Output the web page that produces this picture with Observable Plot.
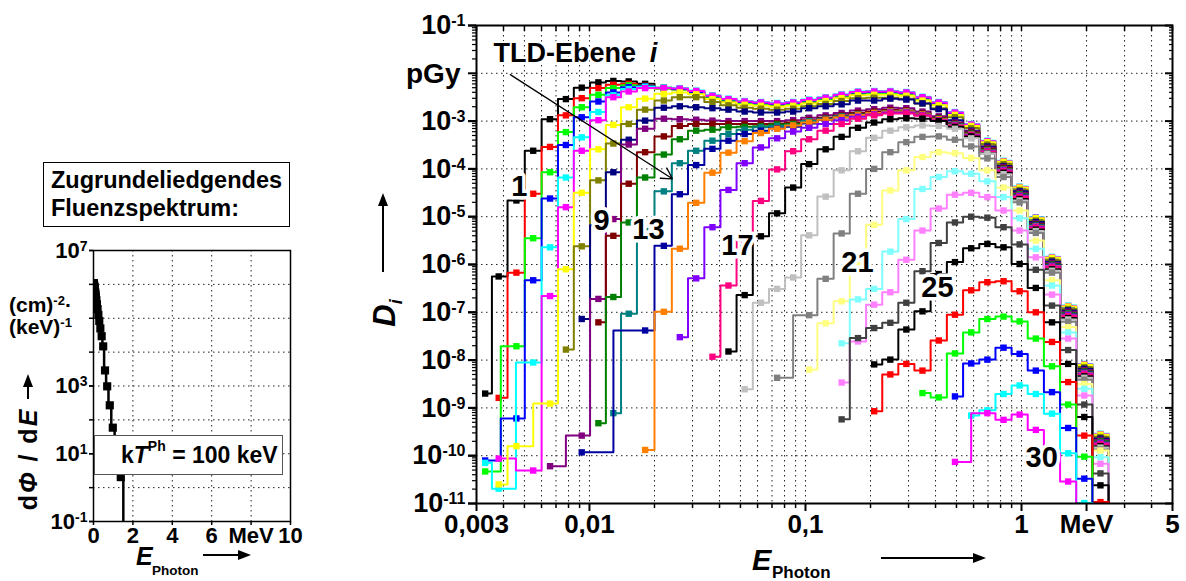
<!DOCTYPE html>
<html><head><meta charset="utf-8">
<script src="https://cdn.jsdelivr.net/npm/d3@7"></script>
<script src="https://cdn.jsdelivr.net/npm/@observablehq/plot@0.6"></script>
<style>
body{margin:0;background:#fff;}
#wrap{position:relative;width:1186px;height:581px;overflow:hidden;font-family:"Liberation Sans",Arial,sans-serif;font-weight:bold;color:#000;background:#fff}
#left{position:absolute;left:0;top:0}
#right{position:absolute;left:340px;top:0}
.abs{position:absolute;white-space:nowrap;line-height:1}
.sup{font-size:0.62em;position:relative;top:-0.55em}
.box{border:1px solid #000;background:#fff;display:flex;flex-direction:column;align-items:center;justify-content:center;line-height:1.15}
.kt{border:1.5px solid #555;background:#fff;display:flex;align-items:center;padding-left:26px;box-sizing:border-box}
.rot{position:absolute;white-space:nowrap;line-height:1;transform:translate(-50%,-50%) rotate(-90deg)}
.harrow{position:absolute;height:0;border-top:2px solid #000}
.harrow::after{content:"";position:absolute;right:-3px;top:-6px;border-left:13px solid #000;border-top:5px solid transparent;border-bottom:5px solid transparent}
.varrow{position:absolute;width:0;border-left:2px solid #000}
.varrow::after{content:"";position:absolute;top:-3px;left:-6px;border-bottom:13px solid #000;border-left:5px solid transparent;border-right:5px solid transparent}
</style></head>
<body>
<div id="wrap">
  <div id="left"></div>
  <div id="right"></div>
  <div class="abs box" style="left:43px;top:162px;width:245px;height:63px;font-size:23.5px;">Zugrundeliedgendes<br>Fluenzspektrum:</div>
  <div class="abs" style="left:9px;top:294px;font-size:21px">(cm)<span class="sup">-2</span>·</div>
  <div class="abs" style="left:9px;top:316px;font-size:21px">(keV)<span class="sup">-1</span></div>
  <div class="rot" style="left:28px;top:459px;font-size:25px;letter-spacing:2px">d<i>Φ</i> / d<i>E</i></div>
  <div class="varrow" style="left:27px;top:377px;height:22px"></div>
  <div class="abs" style="left:136px;top:544px;font-size:25px"><i>E</i></div>
  <div class="abs" style="left:152px;top:564px;font-size:13.5px">Photon</div>
  <div class="harrow" style="left:203px;top:554px;width:45px"></div>
  <div class="abs kt" style="left:94px;top:435px;width:189px;height:40px;font-size:23px">k<i>T</i><span class="sup" style="font-size:14px;top:-9px">Ph</span>&nbsp;= 100 keV</div>
  <div class="abs" style="left:406px;top:60px;font-size:28px">pGy</div>
  <div class="rot" style="left:384px;top:313px;font-size:31px"><i>D</i><i style="font-size:18px;position:relative;top:7px">i</i></div>
  <div class="varrow" style="left:382px;top:196px;height:76px"></div>
  <div class="abs" style="left:752px;top:546px;font-size:29px"><i>E</i></div>
  <div class="abs" style="left:772px;top:564px;font-size:17px">Photon</div>
  <div class="harrow" style="left:881px;top:557px;width:102px"></div>
</div>
<script>
// ---------- data ----------
// photon energy bins (MeV), bin index k = 0..39
const energyMeV = [0.00329,0.00380,0.00459,0.00549,0.00657,0.00778,0.00921,0.0110,0.0129,0.0152,0.0181,0.0221,0.0262,0.0312,0.0371,0.0440,0.0523,0.0622,0.0739,0.0877,0.104,0.124,0.147,0.175,0.208,0.247,0.293,0.348,0.414,0.492,0.585,0.695,0.826,0.980,1.165,1.384,1.644,1.953,2.32,2.76];

// dose spectra D_i (pGy) per TLD plane, stored as log10 values; null = no point; -13 = below axis
const seriesStart = [0,1,0,0,0,1,1,5,6,4,7,7,8,6,10,12,14,15,16,18,20,22,22,22,24,24,27,29,30,29];
const s01 = [-8.70,-6.25,-4.66,-3.62,-2.96,-2.54,-2.30,-2.19,-2.16,-2.17,-2.22,-2.30,-2.33,-2.40,-2.52,-2.59,-2.64,-2.66,-2.68,-2.66,-2.61,-2.56,-2.50,-2.44,-2.43,-2.43,-2.45,-2.55,-2.66,-2.87,-3.12,-3.47,-3.89,-4.43,-5.07,-5.90,-6.92,-8.14,-9.60,-13];
const s02 = [-8.79,-6.17,-4.52,-3.54,-2.88,-2.52,-2.31,-2.24,-2.22,-2.26,-2.32,-2.34,-2.40,-2.51,-2.58,-2.63,-2.65,-2.67,-2.65,-2.60,-2.55,-2.49,-2.43,-2.42,-2.42,-2.44,-2.54,-2.65,-2.86,-3.11,-3.46,-3.88,-4.42,-5.06,-5.89,-6.91,-8.13,-9.59,-13];
const s03 = [-10.33,null,-7.71,-5.45,-4.07,-3.23,-2.71,-2.45,-2.31,-2.25,-2.27,-2.32,-2.34,-2.40,-2.50,-2.57,-2.62,-2.64,-2.66,-2.64,-2.59,-2.54,-2.48,-2.42,-2.41,-2.41,-2.43,-2.53,-2.64,-2.85,-3.10,-3.45,-3.87,-4.41,-5.05,-5.88,-6.90,-8.12,-9.58,-13];
const s04 = [-10.10,null,-9.22,-6.33,-4.62,-3.50,-2.92,-2.59,-2.40,-2.29,-2.27,-2.31,-2.33,-2.39,-2.48,-2.55,-2.60,-2.62,-2.64,-2.62,-2.57,-2.52,-2.46,-2.40,-2.39,-2.39,-2.41,-2.51,-2.62,-2.83,-3.08,-3.44,-3.86,-4.40,-5.04,-5.87,-6.89,-8.11,-9.57,-13];
const s05 = [-10.15,-10.69,null,-8.05,-5.64,-4.18,-3.34,-2.81,-2.46,-2.33,-2.28,-2.30,-2.31,-2.36,-2.46,-2.53,-2.58,-2.60,-2.62,-2.60,-2.55,-2.50,-2.44,-2.38,-2.37,-2.37,-2.39,-2.49,-2.60,-2.81,-3.06,-3.41,-3.83,-4.37,-5.01,-5.84,-6.86,-8.08,-9.54,-13];
const s06 = [-10.06,null,-10.31,-6.66,-4.80,-3.62,-2.98,-2.50,-2.38,-2.31,-2.31,-2.32,-2.37,-2.47,-2.54,-2.59,-2.61,-2.63,-2.61,-2.56,-2.51,-2.45,-2.39,-2.38,-2.38,-2.40,-2.50,-2.61,-2.82,-3.07,-3.42,-3.84,-4.38,-5.02,-5.85,-6.87,-8.09,-9.55,-13];
const s07 = [-10.60,-9.80,null,-8.91,-6.10,-4.50,-3.59,-3.08,-2.71,-2.53,-2.43,-2.40,-2.44,-2.54,-2.61,-2.66,-2.68,-2.70,-2.68,-2.63,-2.58,-2.52,-2.46,-2.45,-2.45,-2.47,-2.57,-2.67,-2.87,-3.10,-3.44,-3.85,-4.39,-5.03,-5.86,-6.88,-8.10,-9.56,-13];
const s08 = [-7.78,-5.62,-4.24,-3.47,-3.06,-2.76,-2.57,-2.50,-2.50,-2.60,-2.67,-2.72,-2.74,-2.76,-2.74,-2.69,-2.64,-2.58,-2.52,-2.51,-2.51,-2.53,-2.63,-2.73,-2.92,-3.15,-3.49,-3.90,-4.44,-5.08,-5.91,-6.93,-8.15,-9.61,-13];
const s09 = [-7.14,-5.18,-4.07,-3.39,-2.99,-2.72,-2.69,-2.71,-2.73,-2.76,-2.80,-2.82,-2.82,-2.80,-2.73,-2.69,-2.65,-2.57,-2.57,-2.53,-2.55,-2.63,-2.75,-2.98,-3.20,-3.53,-3.94,-4.47,-5.11,-5.94,-6.96,-8.18,-9.64,-13];
const s10 = [-10.22,null,-9.58,-6.72,-5.05,-3.49,-3.16,-2.95,-2.96,-2.97,-2.99,-3.00,-3.00,-3.00,-3.00,-2.98,-2.93,-2.88,-2.83,-2.78,-2.75,-2.72,-2.73,-2.80,-2.90,-3.03,-3.22,-3.56,-3.96,-4.50,-5.14,-5.97,-6.99,-8.21,-9.67,-13];
const s11 = [-7.21,-5.40,-4.31,-3.65,-3.32,-3.10,-3.06,-3.06,-3.06,-3.06,-3.06,-3.05,-3.03,-2.98,-2.93,-2.88,-2.83,-2.80,-2.77,-2.78,-2.84,-2.93,-3.05,-3.24,-3.58,-3.98,-4.52,-5.16,-5.99,-7.01,-8.23,-9.69,-13];
const s12 = [-9.32,-6.68,-5.12,-4.18,-3.70,-3.38,-3.20,-3.18,-3.13,-3.12,-3.11,-3.07,-3.06,-3.02,-2.97,-2.92,-2.87,-2.84,-2.80,-2.80,-2.86,-2.95,-3.07,-3.26,-3.60,-4.00,-4.53,-5.17,-6.00,-7.02,-8.24,-9.70,-13];
const s13 = [-9.11,-7.03,-5.30,-4.47,-3.88,-3.62,-3.41,-3.27,-3.18,-3.13,-3.10,-3.08,-3.00,-2.95,-2.90,-2.86,-2.83,-2.80,-2.80,-2.86,-2.95,-3.07,-3.27,-3.61,-4.01,-4.54,-5.18,-6.01,-7.03,-8.25,-9.71,-13];
const s14 = [-9.93,null,null,null,-7.38,-5.61,-4.53,-3.92,-3.58,-3.41,-3.27,-3.20,-3.15,-3.12,-3.05,-2.97,-2.92,-2.88,-2.84,-2.81,-2.81,-2.87,-2.96,-3.08,-3.28,-3.62,-4.02,-4.55,-5.19,-6.02,-7.04,-8.26,-9.72,-13];
const s15 = [-9.88,-6.99,-5.67,-4.71,-4.08,-3.66,-3.42,-3.25,-3.16,-3.09,-3.03,-2.97,-2.92,-2.87,-2.83,-2.80,-2.80,-2.86,-2.96,-3.08,-3.28,-3.62,-4.02,-4.56,-5.20,-6.03,-7.05,-8.27,-9.73,-13];
const s16 = [-7.52,-6.29,-5.22,-4.44,-3.88,-3.55,-3.36,-3.22,-3.14,-3.06,-2.98,-2.91,-2.86,-2.82,-2.82,-2.88,-2.98,-3.09,-3.29,-3.63,-4.03,-4.57,-5.21,-6.04,-7.06,-8.28,-9.74,-13];
const s17 = [-7.93,-6.44,-5.50,-4.67,-4.01,-3.63,-3.38,-3.20,-3.06,-2.95,-2.88,-2.84,-2.84,-2.89,-2.99,-3.10,-3.30,-3.64,-4.05,-4.59,-5.23,-6.06,-7.08,-8.30,-9.76,-13];
const s18 = [-7.82,-6.64,-5.41,-4.93,-4.39,-3.90,-3.59,-3.33,-3.14,-3.03,-2.96,-2.94,-2.95,-3.00,-3.12,-3.32,-3.67,-4.08,-4.63,-5.27,-6.10,-7.12,-8.34,-9.80,-13];
const s19 = [-8.61,-6.80,-6.51,-6.27,-5.39,-4.58,-4.03,-3.63,-3.35,-3.20,-3.13,-3.09,-3.10,-3.16,-3.36,-3.68,-4.11,-4.66,-5.30,-6.13,-7.15,-8.37,-9.83,-13];
const s20 = [-8.37,null,-7.06,-6.30,-5.35,-4.52,-4.00,-3.65,-3.44,-3.33,-3.32,-3.39,-3.53,-3.78,-4.17,-4.70,-5.34,-6.17,-7.20,-8.41,-9.87,-13];
const s21 = [-8.20,-7.23,-6.77,-5.95,-5.17,-4.45,-4.03,-3.75,-3.65,-3.67,-3.77,-4.03,-4.39,-4.87,-5.50,-6.33,-7.31,-8.50,-9.89,-13];
const s22 = [-7.65,-6.73,-6.51,-5.73,-5.05,-4.42,-4.17,-4.05,-4.10,-4.26,-4.59,-5.03,-5.67,-6.44,-7.42,-8.60,-10.03,-13];
const s23 = [-8.47,-7.61,-6.84,-6.58,-5.90,-5.29,-4.83,-4.54,-4.50,-4.59,-4.87,-5.29,-5.85,-6.63,-7.55,-8.74,-10.17,-13];
const s24 = [-9.24,-7.54,-7.33,-7.22,-6.80,-6.14,-5.55,-5.12,-5.00,-5.02,-5.22,-5.58,-6.11,-6.86,-7.79,-8.93,-10.37,-13];
const s25 = [-8.09,-7.99,-7.36,-6.98,-6.20,-5.95,-5.66,-5.57,-5.64,-5.99,-6.49,-7.21,-8.08,-9.19,-10.62,-13];
const s26 = [-9.07,-8.30,-8.08,-8.22,-7.59,-7.05,-6.54,-6.37,-6.35,-6.56,-7.00,-7.62,-8.46,-9.58,-10.97,-13];
const s27 = [-8.69,-8.78,-7.86,-7.42,-7.14,-7.09,-7.19,-7.55,-8.13,-8.93,-10.02,-13];
const s28 = [-8.76,-8.07,-7.99,-7.74,-7.87,-8.22,-8.67,-9.42,-10.48,-13];
const s29 = [-9.16,-9.05,-8.71,-8.53,-8.71,-9.12,-9.95,-10.99,-13];
const s30 = [-10.13,null,-9.11,-9.25,-9.14,-9.46,-9.95,-10.54,-13];
const seriesValues = [s01,s02,s03,s04,s05,s06,s07,s08,s09,s10,s11,s12,s13,s14,s15,s16,s17,s18,s19,s20,s21,s22,s23,s24,s25,s26,s27,s28,s29,s30];
const seriesColors = ["#000000","#FF0000","#00FF00","#0000FF","#00FFFF","#FF00FF","#FFFF00","#808000","#000080","#800080","#800000","#008000","#008080","#0000A0","#FF8000","#8000FF","#FF0080","#000000","#C0C0C0","#808080","#FFFF80","#80FFFF","#FF80FF","#404040","#000000","#FF0000","#00FF00","#0000FF","#00FFFF","#FF00FF"];

// series labels (TLD plane numbers) placed in data space
const labelText = ["1","9","13","17","21","25","30"];
const labelE = [0.00474,0.01137,0.01875,0.0484,0.174,0.408,1.24];
const labelD = [4.3e-5,8.3e-6,5.4e-6,2.5e-6,1.1e-6,3.2e-7,9.1e-11];
const titleE = [0.0036, 0.0190];
const titleD = [2.66e-2, 2.66e-2];
const titleText = ["TLD-Ebene", "i"];
const arrowFrom = [0.0043, 9.4e-3];
const arrowTo = [0.0242, 6.2e-5];

// underlying fluence spectrum (log10 of (cm^-2 keV^-1)), same bins k = 0..36; -3 = below axis
const fluenceLog10 = [6.03,6.03,6.03,6.02,6.02,6.02,6.01,6.01,6.00,6.00,5.99,5.98,5.97,5.96,5.94,5.92,5.89,5.86,5.82,5.77,5.71,5.63,5.53,5.41,5.27,5.10,4.92,4.70,4.47,4.17,3.46,2.99,2.43,1.77,1.05,0.31,-3];

// ticks
const xTickValues = [0.003,0.01,0.1,1,2,5];
const xTickLabels = ["0,003","0,01","0,1","1","MeV","5"];
const xMinor = [0.004,0.005,0.006,0.007,0.008,0.009,0.02,0.03,0.04,0.05,0.06,0.07,0.08,0.09,0.2,0.3,0.4,0.5,0.6,0.7,0.8,0.9,3,4];
const xGrid = [0.004,0.005,0.006,0.007,0.008,0.009,0.01,0.02,0.03,0.04,0.05,0.06,0.07,0.08,0.09,0.1,0.2,0.3,0.4,0.5,0.6,0.7,0.8,0.9,1,2,3,4];
const yDecades = [1e-11,1e-10,1e-9,1e-8,1e-7,1e-6,1e-5,1e-4,1e-3,1e-2,1e-1];
const yLabelTicks = [1e-11,1e-10,1e-9,1e-8,1e-7,1e-6,1e-5,1e-4,1e-3,1e-1];
const yGrid = [1e-10,1e-9,1e-8,1e-7,1e-6,1e-5,1e-4,1e-3,1e-2];
const yMinor = yDecades.slice(0,-1).flatMap(d => [2,3,4,5,6,7,8,9].map(m => d*m));

const lxTicks = [0,2,4,6,8,10];
const lxLabels = ["0","2","4","6","MeV","10"];
const lxGrid = [2,4,6,8];
const lyDecades = [1e-1,1,10,100,1e3,1e4,1e5,1e6,1e7];
const lyLabelTicks = [1e-1,10,1e3,1e7];
const lyGrid = [1,10,100,1e3,1e4,1e5,1e6];

// ---------- drawing ----------
const font = "'Liberation Sans', Arial, sans-serif";
const dotted = {stroke: "#222", strokeOpacity: 1, strokeWidth: 1, strokeDasharray: "1.5,3.5"};
const expFmt = d => "10^" + Math.round(Math.log10(d));
const blank = () => "";

const seriesMarks = [];
seriesValues.forEach((vals, i) => {
  const pts = [];
  vals.forEach((v, j) => { if (v !== null) pts.push({E: energyMeV[seriesStart[i] + j], D: 10 ** v}); });
  seriesMarks.push(Plot.line(pts, {x: "E", y: "D", curve: "step", stroke: seriesColors[i], strokeWidth: 2, clip: true}));
  seriesMarks.push(Plot.dot(pts.filter(p => p.D > 1e-12), {x: "E", y: "D", symbol: "square", r: 3.6, fill: seriesColors[i], clip: true}));
});

const labels = labelText.map((t, i) => ({t, E: labelE[i], D: labelD[i]}));
const titles = titleText.map((t, i) => ({t, E: titleE[i], D: titleD[i]}));
const xTicks = xTickValues.map((v, i) => ({v, t: xTickLabels[i]}));

const right = Plot.plot({
  width: 846, height: 581,
  marginLeft: 136, marginRight: 14, marginTop: 25, marginBottom: 78,
  x: {type: "log", domain: [0.003, 5], axis: null, label: null},
  y: {type: "log", domain: [1e-11, 1e-1], axis: null, label: null},
  style: {fontFamily: font, fontSize: "27px", fontWeight: "bold", background: "transparent", overflow: "visible", color: "#000"},
  marks: [
    Plot.gridX(xGrid, dotted),
    Plot.gridY(yGrid, dotted),
    ...seriesMarks,
    Plot.text(labels, {x: "E", y: "D", text: "t", fontSize: 29, fontWeight: "bold", fill: "#000", stroke: "white", strokeWidth: 7, strokeLinejoin: "round"}),
    Plot.text(titles.slice(0,1), {x: "E", y: "D", text: "t", fontSize: 27, fontWeight: "bold", textAnchor: "start", fill: "#000", stroke: "white", strokeWidth: 4}),
    Plot.text(titles.slice(1), {x: "E", y: "D", text: "t", fontSize: 27, fontWeight: "bold", fontStyle: "italic", textAnchor: "start", fill: "#000", stroke: "white", strokeWidth: 4}),
    Plot.arrow([{x1: arrowFrom[0], y1: arrowFrom[1], x2: arrowTo[0], y2: arrowTo[1]}], {x1: "x1", y1: "y1", x2: "x2", y2: "y2", stroke: "#000", strokeWidth: 1.3, headLength: 14}),
    Plot.axisX(xTickValues, {tickSize: 8, strokeWidth: 2, tickFormat: blank, label: null}),
    Plot.text(xTicks, {x: "v", text: "t", frameAnchor: "bottom", lineAnchor: "top", dy: 11, fontSize: 26, fontWeight: "bold", fill: "#000"}),
    Plot.axisX(xMinor, {tickSize: 5, strokeWidth: 1.5, tickFormat: blank, label: null}),
    Plot.axisX(xTickValues.concat(xMinor), {anchor: "top", tickSize: -5, strokeWidth: 1.5, tickFormat: blank, label: null}),
    Plot.axisY(yDecades, {tickSize: 8, strokeWidth: 2, tickFormat: blank, label: null}),
    Plot.axisY(yLabelTicks, {tickSize: 8, tickPadding: 3, strokeWidth: 2, tickFormat: expFmt, label: null}),
    Plot.axisY(yMinor, {tickSize: 4, strokeWidth: 1.2, tickFormat: blank, label: null}),
    Plot.axisY(yDecades, {anchor: "right", tickSize: -8, strokeWidth: 2, tickFormat: blank, label: null}),
    Plot.axisY(yMinor, {anchor: "right", tickSize: -4, strokeWidth: 1.2, tickFormat: blank, label: null}),
    Plot.frame({stroke: "#000", strokeWidth: 2})
  ]
});

const fluRows = fluenceLog10.map((v, k) => ({E: energyMeV[k], F: 10 ** v}));
const left = Plot.plot({
  width: 340, height: 581,
  marginLeft: 93, marginRight: 50, marginTop: 250, marginBottom: 60,
  x: {domain: [0, 10], axis: null, label: null},
  y: {type: "log", domain: [0.1, 1e7], axis: null, label: null},
  style: {fontFamily: font, fontSize: "22px", fontWeight: "bold", background: "transparent", overflow: "visible", color: "#000"},
  marks: [
    Plot.gridX(lxGrid, dotted),
    Plot.gridY(lyGrid, dotted),
    Plot.line(fluRows, {x: "E", y: "F", curve: "step", stroke: "#000", strokeWidth: 2.5, clip: true}),
    Plot.dot(fluRows.filter(d => d.F >= 0.1), {x: "E", y: "F", symbol: "square", r: 4.6, fill: "#000", clip: true}),
    Plot.axisX(lxTicks, {tickSize: 4, tickPadding: 2, strokeWidth: 1.5, tickFormat: d => lxLabels[lxTicks.indexOf(d)], label: null}),
    Plot.axisY(lyLabelTicks, {tickSize: 4, tickPadding: 2, strokeWidth: 1.5, tickFormat: expFmt, label: null}),
    Plot.axisY(lyDecades, {tickSize: 4, strokeWidth: 1.5, tickFormat: blank, label: null}),
    Plot.frame({stroke: "#000", strokeWidth: 1.5})
  ]
});

document.getElementById("right").appendChild(right);
document.getElementById("left").appendChild(left);

// superscript exponents on the log-axis tick labels
function superscript(svg, expSize) {
  svg.querySelectorAll("text").forEach(t => {
    const m = /^10\^(-?\d+)$/.exec(t.textContent);
    if (!m) return;
    t.textContent = "10";
    const ts = document.createElementNS("http://www.w3.org/2000/svg", "tspan");
    ts.setAttribute("dy", "-0.5em");
    ts.setAttribute("font-size", expSize);
    ts.textContent = m[1];
    t.appendChild(ts);
  });
}
superscript(right, "16px");
superscript(left, "14px");
</script>
</body></html>
